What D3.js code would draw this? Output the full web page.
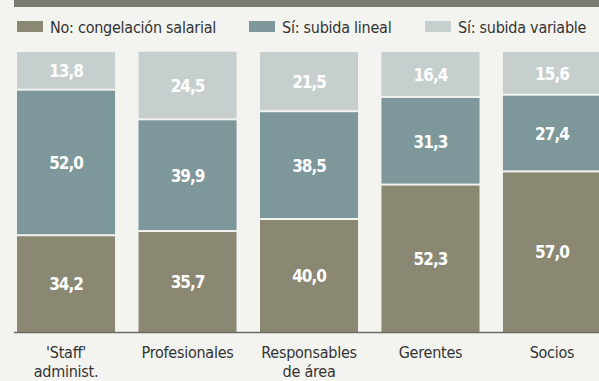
<!DOCTYPE html>
<html>
<head>
<meta charset="utf-8">
<script src="https://cdn.jsdelivr.net/npm/d3@7"></script>
<style>
  html, body { margin: 0; padding: 0; background: #f3f3ef; }
  svg { display: block; }
  text { font-family: "DejaVu Sans Condensed", "Liberation Sans Narrow", sans-serif; }
</style>
</head>
<body>
<svg id="chart" width="599" height="381"></svg>
<script>
// Categories (two-line labels split on "\n")
const categories = ["'Staff'\nadminist.", "Profesionales", "Responsables\nde área", "Gerentes", "Socios"];
const seriesNames = ["No: congelación salarial", "Sí: subida lineal", "Sí: subida variable"];
// Percentages per category, bottom to top
const congelacion = [34.2, 35.7, 40.0, 52.3, 57.0];
const subidaLineal = [52.0, 39.9, 38.5, 31.3, 27.4];
const subidaVariable = [13.8, 24.5, 21.5, 16.4, 15.6];
const seriesColors = ["#8a8872", "#7d979a", "#c6cfce"];

const W = 599, H = 381;
const svg = d3.select("#chart");

const rows = categories.map((c, i) => ({
  cat: c,
  [seriesNames[0]]: congelacion[i],
  [seriesNames[1]]: subidaLineal[i],
  [seriesNames[2]]: subidaVariable[i]
}));
const stacked = d3.stack().keys(seriesNames)(rows);

const x = d3.scaleBand().domain(categories).range([17, 601]).paddingInner(0.193).paddingOuter(0);
const y = d3.scaleLinear().domain([0, 100]).range([332, 52]);
const color = d3.scaleOrdinal().domain(seriesNames).range(seriesColors);
const fmt = v => d3.format(".1f")(v).replace(".", ",");

// Dark header band
svg.append("rect").attr("x", 14).attr("y", 0).attr("width", W - 14).attr("height", 7).attr("fill", "#7b7a70");

// Legend
const legendX = [17, 249, 425];
const lg = svg.append("g").selectAll("g").data(seriesNames).join("g")
  .attr("transform", (d, i) => `translate(${legendX[i]},21)`);
lg.append("rect").attr("width", 26).attr("height", 11).attr("fill", d => color(d));
lg.append("text").attr("x", 33).attr("y", 11.5).attr("font-size", 16)
  .attr("letter-spacing", -0.25).attr("fill", "#333")
  .text(d => d);

// Stacked bars
const gap = 2;
const layers = svg.append("g").selectAll("g").data(stacked).join("g")
  .attr("fill", d => color(d.key));
layers.selectAll("rect").data((s, si) => s.map(d => ({ d, si, key: s.key }))).join("rect")
  .attr("x", o => x(o.d.data.cat))
  .attr("width", x.bandwidth())
  .attr("y", o => y(o.d[1]))
  .attr("height", o => y(o.d[0]) - y(o.d[1]) - (o.si > 0 ? gap : 0));

// Value labels
layers.selectAll("text").data(s => s.map(d => ({ d, key: s.key }))).join("text")
  .attr("x", o => x(o.d.data.cat) + x.bandwidth() / 2)
  .attr("y", o => (y(o.d[0]) + y(o.d[1])) / 2)
  .attr("dy", "0.35em")
  .attr("text-anchor", "middle")
  .attr("font-size", 17)
  .attr("letter-spacing", -1)
  .attr("font-weight", "bold")
  .attr("fill", "#ffffff")
  .text(o => fmt(o.d[1] - o.d[0]));

// Baseline
svg.append("line").attr("x1", 14).attr("x2", W).attr("y1", 332.5).attr("y2", 332.5)
  .attr("stroke", "#6b6b66").attr("stroke-width", 1.5);

// Category axis labels
const xAxis = svg.append("g").attr("transform", "translate(0,332)")
  .call(d3.axisBottom(x).tickSize(0).tickFormat(""));
xAxis.select(".domain").remove();
xAxis.selectAll(".tick").each(function(d) {
  const t = d3.select(this).append("text")
    .attr("y", 26).attr("text-anchor", "middle").attr("font-size", 16)
    .attr("letter-spacing", -0.25).attr("fill", "#333");
  d.split("\n").forEach((line, i) => {
    t.append("tspan").attr("x", 0).attr("dy", i === 0 ? 0 : 19).text(line);
  });
});
</script>
</body>
</html>
